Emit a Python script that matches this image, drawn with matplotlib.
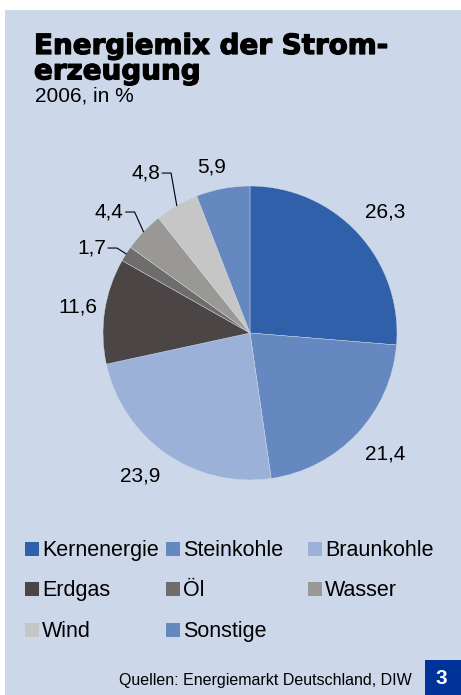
import numpy as np
import matplotlib
matplotlib.use("Agg")
import matplotlib.pyplot as plt
import matplotlib.patheffects as pe
from matplotlib.patches import Rectangle

plt.rcParams["font.family"] = ["Liberation Sans", "DejaVu Sans"]

# data
categories = ["Kernenergie", "Steinkohle", "Braunkohle", "Erdgas", "Öl", "Wasser", "Wind", "Sonstige"]
shares = [26.3, 21.4, 23.9, 11.6, 1.7, 4.4, 4.8, 5.9]
labels = ["26,3", "21,4", "23,9", "11,6", "1,7", "4,4", "4,8", "5,9"]
colors = ["#3060aa", "#6688c0", "#9cb1d8", "#4b4645", "#6f6d6b", "#9a9895", "#c6c6c6", "#6688c0"]

BG = "#ccd7e9"
W, H = 461, 695

fig = plt.figure(figsize=(W / 100, H / 100), dpi=100)
fig.patch.set_facecolor("white")
fig.patches.append(Rectangle((5 / W, 0), 1 - 5 / W, 1 - 10 / H, transform=fig.transFigure,
                             facecolor=BG, edgecolor="none", zorder=-5))

def fx(px):
    return px / W

def fy(py):
    return 1 - py / H

# title block
title_fx = [pe.withStroke(linewidth=0.9, foreground="black")]
fig.text(fx(34), fy(32), "Energiemix der Strom-\nerzeugung", fontsize=20, fontweight="bold",
         family="DejaVu Sans", va="top", ha="left", linespacing=0.88, path_effects=title_fx)
fig.text(fx(35), fy(102), "2006, in %", fontsize=15, va="baseline", ha="left")

# pie: centre (250, 333) px, radius 147 px
R = 147
half = 210
ax = fig.add_axes([fx(250 - half), fy(333 + half), 2 * half / W, 2 * half / H])
ax.set_facecolor("none")
wedges, _ = ax.pie(shares, colors=colors, startangle=90, counterclock=False,
                   wedgeprops=dict(linewidth=0.3, edgecolor="#d5dcea"))
lim = half / R
ax.set_xlim(-lim, lim)
ax.set_ylim(-lim, lim)
ax.set_aspect("equal")
ax.axis("off")

# label placement (data units, pie radius = 1); leader=True -> elbow point
label_pos = [(0.918, 0.823, False), (0.918, -0.823, False), (-0.748, -0.975, False),
             (-1.17, 0.175, False), (-0.905, 0.578, True), (-0.785, 0.823, True),
             (-0.537, 1.088, True), (-0.259, 1.129, False)]

for w, lab, (x, y, leader) in zip(wedges, labels, label_pos):
    if not leader:
        ax.text(x, y, lab, fontsize=15, ha="center", va="center")
        continue
    mid = np.deg2rad((w.theta1 + w.theta2) / 2)
    ex, ey = np.cos(mid), np.sin(mid)
    x0 = x - 0.06
    ax.plot([x0, x, ex], [y, y, ey], color="black", linewidth=0.8)
    ax.text(x0 - 0.015, y, lab, fontsize=15, ha="right", va="center")

# legend grid (row-wise, 3 columns)
col_x = [25, 166, 308]
row_y = [549, 589, 630]
for i, (cat, col) in enumerate(zip(categories, colors)):
    r, c = divmod(i, 3)
    fig.patches.append(Rectangle((fx(col_x[c]), fy(row_y[r] + 7)), 14 / W, 14 / H,
                                 transform=fig.transFigure, facecolor=col, edgecolor="none"))
    fig.text(fx(col_x[c] + 17), fy(row_y[r] + 7), cat, fontsize=15.5, va="baseline", ha="left")

# source + page box
fig.text(fx(412), fy(685), "Quellen: Energiemarkt Deutschland, DIW", fontsize=11.5,
         ha="right", va="baseline")
fig.patches.append(Rectangle((fx(425), 0), 1 - fx(425), 35 / H, transform=fig.transFigure,
                             facecolor="#003399", edgecolor="none"))
fig.text(fx(441), fy(678), "3", fontsize=15, fontweight="bold", color="white",
         ha="center", va="center")

fig.savefig("out.png", dpi=100, facecolor=fig.get_facecolor())
